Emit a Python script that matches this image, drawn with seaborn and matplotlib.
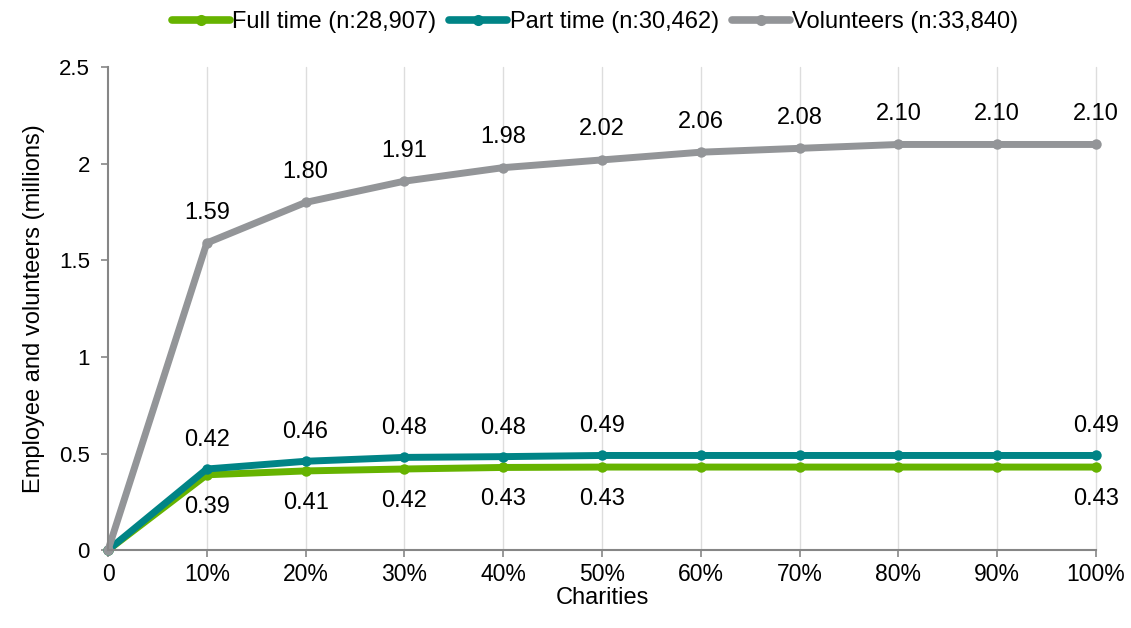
import matplotlib
matplotlib.use("Agg")
import matplotlib.pyplot as plt
import seaborn as sns
import pandas as pd

x_labels = ["0", "10%", "20%", "30%", "40%", "50%", "60%", "70%", "80%", "90%", "100%"]
full_time = [0, 0.39, 0.41, 0.42, 0.428, 0.43, 0.43, 0.43, 0.43, 0.43, 0.43]
part_time = [0, 0.42, 0.46, 0.48, 0.484, 0.49, 0.49, 0.49, 0.49, 0.49, 0.49]
volunteers = [0, 1.59, 1.80, 1.91, 1.98, 2.02, 2.06, 2.08, 2.10, 2.10, 2.10]
series_names = ["Full time (n:28,907)", "Part time (n:30,462)", "Volunteers (n:33,840)"]
colors = ["#66B300", "#008486", "#939598"]

sns.set_theme(style="white")
plt.rcParams['font.family'] = ['Liberation Sans', 'DejaVu Sans']
plt.rcParams['text.color'] = 'black'

rows = []
for name, vals in zip(series_names, [full_time, part_time, volunteers]):
    for i, v in enumerate(vals):
        rows.append({"x": i, "value": v, "series": name})
df = pd.DataFrame(rows)

fig = plt.figure(figsize=(11.31, 6.28), dpi=100)
ax = fig.add_axes([0.0955, 0.124, 0.8735, 0.769])

sns.lineplot(data=df, x="x", y="value", hue="series", palette=colors,
             hue_order=series_names, marker="o", markersize=7.5, markeredgewidth=0,
             linewidth=5, ax=ax)

ax.set_xlim(0, 10)
ax.set_ylim(0, 2.5)
ax.set_xticks(range(11))
ax.set_xticklabels(x_labels)
ax.set_yticks([0, 0.5, 1, 1.5, 2, 2.5])
ax.set_yticklabels(["0", "0.5", "1", "1.5", "2", "2.5"])
ax.tick_params(axis="x", labelsize=16.5, labelcolor="black", length=5, width=1.2,
               color="#868686", direction="out", bottom=True, pad=4)
ax.tick_params(axis="y", labelsize=16, labelcolor="black", length=5, width=1.2,
               color="#868686", direction="out", left=True, pad=8)
ax.set_xlabel("Charities", fontsize=17, color="black", labelpad=1)
ax.set_ylabel("Employee and volunteers (millions)", fontsize=17, color="black", labelpad=10)

for i in range(1, 11):
    ax.axvline(i, color="#DDDDDD", linewidth=1, zorder=0)

for s in ["top", "right"]:
    ax.spines[s].set_visible(False)
for s in ["left", "bottom"]:
    ax.spines[s].set_color("#868686")
    ax.spines[s].set_linewidth(1.5)

fs = 17
for i in range(1, 11):
    ax.annotate(f"{volunteers[i]:.2f}", (i, volunteers[i]), xytext=(0, 14),
                textcoords="offset points", ha="center", va="bottom", fontsize=fs)
for i in [1, 2, 3, 4, 5, 10]:
    ax.annotate(f"{part_time[i]:.2f}", (i, part_time[i]), xytext=(0, 13),
                textcoords="offset points", ha="center", va="bottom", fontsize=fs)
    ax.annotate(f"{full_time[i]:.2f}", (i, full_time[i]), xytext=(0, -15),
                textcoords="offset points", ha="center", va="top", fontsize=fs)

handles, labels = ax.get_legend_handles_labels()
for h in handles:
    h.set_linewidth(5.5)
    h.set_markersize(8)
leg = ax.legend(handles, labels, loc="center", bbox_to_anchor=(0.493, 1.093), ncol=3,
                frameon=False, fontsize=17, handlelength=2.45, handletextpad=0.1,
                columnspacing=0.55, borderaxespad=0.0, borderpad=0)
for l in ax.lines:
    l.set_clip_on(False)

fig.savefig("out.png", dpi=100)
